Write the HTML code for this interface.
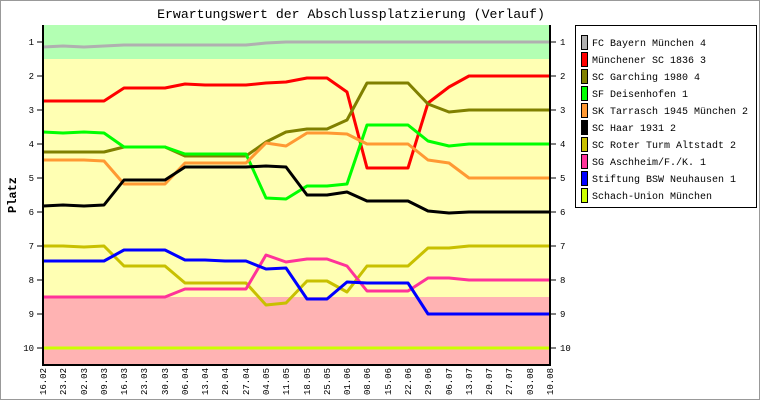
<!DOCTYPE html>
<html><head><meta charset="utf-8"><style>
html,body{margin:0;padding:0;background:#fff}
svg{display:block}
text{font-family:"Liberation Mono","DejaVu Sans Mono",monospace;fill:#000}
</style></head><body>
<svg width="760" height="400" viewBox="0 0 760 400" xmlns="http://www.w3.org/2000/svg">
<rect x="0.5" y="0.5" width="759" height="399" fill="#fff" stroke="#999" stroke-width="1"/>
<text x="351" y="18" font-size="13.2" text-anchor="middle">Erwartungswert der Abschlussplatzierung (Verlauf)</text>
<rect x="43" y="25" width="507" height="34" fill="#b3ffb3"/>
<rect x="43" y="59" width="507" height="238" fill="#ffffb3"/>
<rect x="43" y="297" width="507" height="68" fill="#ffb3b3"/>
<g fill="none" stroke-width="3" stroke-linejoin="round">
<polyline stroke="#b0b0b0" points="43,47 63,46 84,47 104,46 124,45 144,45 165,45 185,45 205,45 225,45 246,45 266,43 286,42 307,42 327,42 347,42 367,42 388,42 408,42 428,42 449,42 469,42 489,42 509,42 530,42 550,42"/>
<polyline stroke="#ff0000" points="43,101 63,101 84,101 104,101 124,88 144,88 165,88 185,84 205,85 225,85 246,85 266,83 286,82 307,78 327,78 347,92 367,168 388,168 408,168 428,103 449,87 469,76 489,76 509,76 530,76 550,76"/>
<polyline stroke="#808000" points="43,152 63,152 84,152 104,152 124,147 144,147 165,147 185,156 205,156 225,156 246,156 266,142 286,132 307,129 327,129 347,120 367,83 388,83 408,83 428,104 449,112 469,110 489,110 509,110 530,110 550,110"/>
<polyline stroke="#00ff00" points="43,132 63,133 84,132 104,133 124,147 144,147 165,147 185,154 205,154 225,154 246,154 266,198 286,199 307,186 327,186 347,184 367,125 388,125 408,125 428,141 449,146 469,144 489,144 509,144 530,144 550,144"/>
<polyline stroke="#ff9933" points="43,160 63,160 84,160 104,161 124,184 144,184 165,184 185,163 205,163 225,163 246,163 266,143 286,146 307,133 327,133 347,134 367,144 388,144 408,144 428,160 449,163 469,178 489,178 509,178 530,178 550,178"/>
<polyline stroke="#000000" points="43,206 63,205 84,206 104,205 124,180 144,180 165,180 185,167 205,167 225,167 246,167 266,166 286,167 307,195 327,195 347,192 367,201 388,201 408,201 428,211 449,213 469,212 489,212 509,212 530,212 550,212"/>
<polyline stroke="#c8c000" points="43,246 63,246 84,247 104,246 124,266 144,266 165,266 185,283 205,283 225,283 246,283 266,305 286,303 307,281 327,281 347,292 367,266 388,266 408,266 428,248 449,248 469,246 489,246 509,246 530,246 550,246"/>
<polyline stroke="#ff3399" points="43,297 63,297 84,297 104,297 124,297 144,297 165,297 185,289 205,289 225,289 246,289 266,255 286,262 307,259 327,259 347,266 367,291 388,291 408,291 428,278 449,278 469,280 489,280 509,280 530,280 550,280"/>
<polyline stroke="#0000ff" points="43,261 63,261 84,261 104,261 124,250 144,250 165,250 185,260 205,260 225,261 246,261 266,269 286,268 307,299 327,299 347,282 367,283 388,283 408,283 428,314 449,314 469,314 489,314 509,314 530,314 550,314"/>
<polyline stroke="#ccff00" points="43,348 550,348"/>
</g>
<g stroke="#000" stroke-width="2" fill="none">
<polyline points="43,25 43,365 550,365 550,25"/>
</g>
<g stroke="#000" stroke-width="1">
<line x1="37" y1="42" x2="43" y2="42"/><line x1="550" y1="42" x2="556" y2="42"/>
<line x1="37" y1="76" x2="43" y2="76"/><line x1="550" y1="76" x2="556" y2="76"/>
<line x1="37" y1="110" x2="43" y2="110"/><line x1="550" y1="110" x2="556" y2="110"/>
<line x1="37" y1="144" x2="43" y2="144"/><line x1="550" y1="144" x2="556" y2="144"/>
<line x1="37" y1="178" x2="43" y2="178"/><line x1="550" y1="178" x2="556" y2="178"/>
<line x1="37" y1="212" x2="43" y2="212"/><line x1="550" y1="212" x2="556" y2="212"/>
<line x1="37" y1="246" x2="43" y2="246"/><line x1="550" y1="246" x2="556" y2="246"/>
<line x1="37" y1="280" x2="43" y2="280"/><line x1="550" y1="280" x2="556" y2="280"/>
<line x1="37" y1="314" x2="43" y2="314"/><line x1="550" y1="314" x2="556" y2="314"/>
<line x1="37" y1="348" x2="43" y2="348"/><line x1="550" y1="348" x2="556" y2="348"/>
</g>
<g font-size="9" text-anchor="end">
<text x="34" y="45">1</text><text x="34" y="79">2</text><text x="34" y="113">3</text><text x="34" y="147">4</text><text x="34" y="181">5</text><text x="34" y="215">6</text><text x="34" y="249">7</text><text x="34" y="283">8</text><text x="34" y="317">9</text><text x="34" y="351">10</text>
</g>
<g font-size="9">
<text x="560" y="45">1</text><text x="560" y="79">2</text><text x="560" y="113">3</text><text x="560" y="147">4</text><text x="560" y="181">5</text><text x="560" y="215">6</text><text x="560" y="249">7</text><text x="560" y="283">8</text><text x="560" y="317">9</text><text x="560" y="351">10</text>
</g>
<text transform="translate(16,195) rotate(-90)" font-size="12" text-anchor="middle" font-weight="bold">Platz</text>
<g font-size="9" text-anchor="end">
<text transform="translate(46,368) rotate(-90)">16.02</text>
<text transform="translate(66,368) rotate(-90)">23.02</text>
<text transform="translate(87,368) rotate(-90)">02.03</text>
<text transform="translate(107,368) rotate(-90)">09.03</text>
<text transform="translate(127,368) rotate(-90)">16.03</text>
<text transform="translate(147,368) rotate(-90)">23.03</text>
<text transform="translate(168,368) rotate(-90)">30.03</text>
<text transform="translate(188,368) rotate(-90)">06.04</text>
<text transform="translate(208,368) rotate(-90)">13.04</text>
<text transform="translate(228,368) rotate(-90)">20.04</text>
<text transform="translate(249,368) rotate(-90)">27.04</text>
<text transform="translate(269,368) rotate(-90)">04.05</text>
<text transform="translate(289,368) rotate(-90)">11.05</text>
<text transform="translate(310,368) rotate(-90)">18.05</text>
<text transform="translate(330,368) rotate(-90)">25.05</text>
<text transform="translate(350,368) rotate(-90)">01.06</text>
<text transform="translate(370,368) rotate(-90)">08.06</text>
<text transform="translate(391,368) rotate(-90)">15.06</text>
<text transform="translate(411,368) rotate(-90)">22.06</text>
<text transform="translate(431,368) rotate(-90)">29.06</text>
<text transform="translate(452,368) rotate(-90)">06.07</text>
<text transform="translate(472,368) rotate(-90)">13.07</text>
<text transform="translate(492,368) rotate(-90)">20.07</text>
<text transform="translate(512,368) rotate(-90)">27.07</text>
<text transform="translate(533,368) rotate(-90)">03.08</text>
<text transform="translate(553,368) rotate(-90)">10.08</text>
</g>
<rect x="575.5" y="25.5" width="181" height="182" fill="#fff" stroke="#000"/>
<g stroke="#000" stroke-width="1">
<rect x="581.5" y="35.5" width="6" height="14" fill="#b0b0b0"/>
<rect x="581.5" y="52.5" width="6" height="14" fill="#ff0000"/>
<rect x="581.5" y="69.5" width="6" height="14" fill="#808000"/>
<rect x="581.5" y="86.5" width="6" height="14" fill="#00ff00"/>
<rect x="581.5" y="103.5" width="6" height="14" fill="#ff9933"/>
<rect x="581.5" y="120.5" width="6" height="14" fill="#000000"/>
<rect x="581.5" y="137.5" width="6" height="14" fill="#c8c000"/>
<rect x="581.5" y="154.5" width="6" height="14" fill="#ff3399"/>
<rect x="581.5" y="171.5" width="6" height="14" fill="#0000ff"/>
<rect x="581.5" y="188.5" width="6" height="14" fill="#ccff00"/>
</g>
<g font-size="10">
<text x="592" y="46">FC Bayern München 4</text>
<text x="592" y="63">Münchener SC 1836 3</text>
<text x="592" y="80">SC Garching 1980 4</text>
<text x="592" y="97">SF Deisenhofen 1</text>
<text x="592" y="114">SK Tarrasch 1945 München 2</text>
<text x="592" y="131">SC Haar 1931 2</text>
<text x="592" y="148">SC Roter Turm Altstadt 2</text>
<text x="592" y="165">SG Aschheim/F./K. 1</text>
<text x="592" y="182">Stiftung BSW Neuhausen 1</text>
<text x="592" y="199">Schach-Union München</text>
</g>
</svg>
</body></html>
